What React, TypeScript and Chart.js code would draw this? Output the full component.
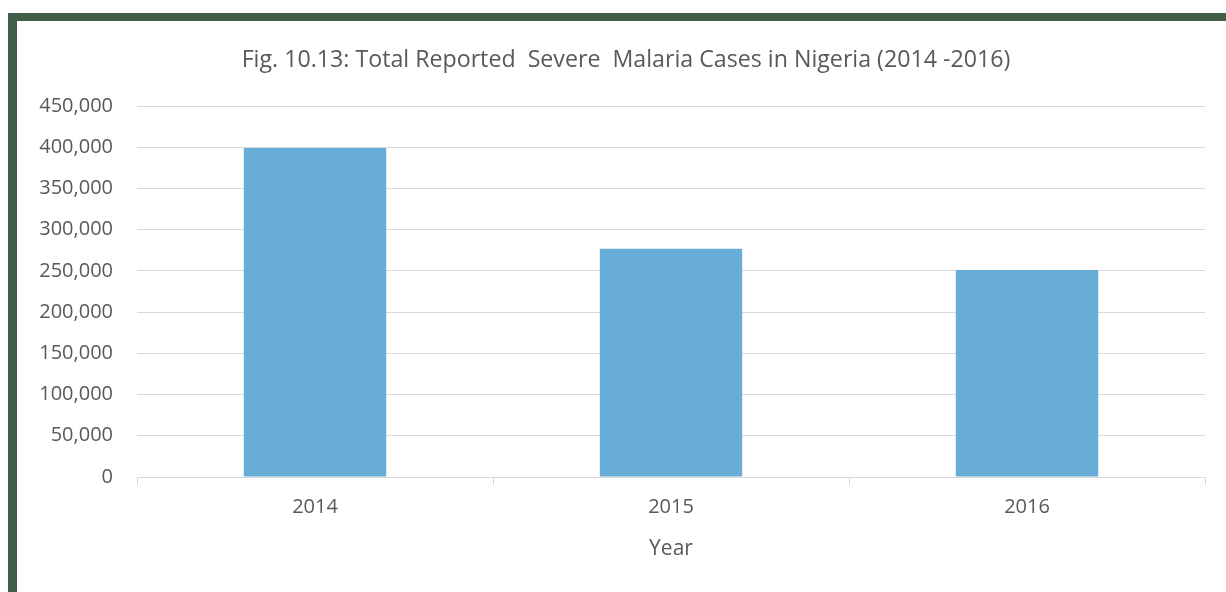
import React, { useEffect, useRef } from "react";
import { Chart, registerables } from "chart.js";

Chart.register(...registerables);

const categories = ["2014", "2015", "2016"];
const severeCases = [399000, 277000, 251000];
const yTicks = [0, 50000, 100000, 150000, 200000, 250000, 300000, 350000, 400000, 450000];
const titleText = "Fig. 10.13: Total Reported  Severe  Malaria Cases in Nigeria (2014 -2016)";
const xAxisTitle = "Year";

const FONT = "'Open Sans', Lato, sans-serif";
const GREY = "#595959";
const GRID = "#d9d9d9";

const titleShift = {
  id: "titleShift",
  afterLayout(chart: any) {
    const t = chart.titleBlock;
    if (t) {
      t.left += 30;
    }
  },
};

export default function App() {
  const ref = useRef<HTMLCanvasElement>(null);
  useEffect(() => {
    document.body.style.margin = "0";
    const ctx = ref.current!;
    const chart = new Chart(ctx, {
      type: "bar",
      data: {
        labels: categories,
        datasets: [
          {
            label: "Severe malaria cases",
            data: severeCases,
            backgroundColor: "#68acd8",
            borderWidth: 0,
            categoryPercentage: 1,
            barPercentage: 0.4,
          },
        ],
      },
      plugins: [titleShift],
      options: {
        animation: false,
        responsive: false,
        maintainAspectRatio: false,
        layout: { padding: { left: 0, right: 21, top: 0, bottom: 0 } },
        plugins: {
          legend: { display: false },
          tooltip: { enabled: false },
          title: {
            display: true,
            text: titleText,
            color: GREY,
            font: { family: FONT, size: 23.2, weight: "normal" },
            padding: { top: 25.5, bottom: 31.7 },
          },
        },
        scales: {
          x: {
            grid: {
              display: true,
              offset: true,
              drawOnChartArea: false,
              drawTicks: true,
              tickLength: 8,
              color: GRID,
            },
            border: { display: true, color: GRID },
            ticks: {
              color: GREY,
              font: { family: FONT, size: 20 },
              padding: 10,
              maxRotation: 0,
            },
            title: {
              display: true,
              text: xAxisTitle,
              color: GREY,
              font: { family: FONT, size: 21 },
              padding: { top: 0, bottom: 30 },
            },
            afterFit: (scale: any) => {
              scale.height = 115;
            },
          },
          y: {
            min: 0,
            max: 450000,
            grid: { color: GRID, drawTicks: false },
            border: { display: false },
            afterBuildTicks: (scale: any) => {
              scale.ticks = yTicks.map((v) => ({ value: v }));
            },
            ticks: {
              color: GREY,
              font: { family: FONT, size: 20 },
              padding: 24,
              callback: (v: any) => Number(v).toLocaleString("en-US"),
            },
            afterFit: (scale: any) => {
              scale.width = 120;
            },
          },
        },
      },
    });
    return () => chart.destroy();
  }, []);

  return (
    <div style={{ position: "fixed", left: 0, top: 0, width: 1226, height: 592, background: "#fff", overflow: "hidden" }}>
      <div style={{ position: "absolute", left: 8, top: 13, width: 1218, height: 8, background: "#3f5d47" }} />
      <div style={{ position: "absolute", left: 8, top: 13, width: 9, height: 579, background: "#3f5d47" }} />
      <canvas
        ref={ref}
        width={1209}
        height={571}
        style={{ position: "absolute", left: 17, top: 21, width: 1209, height: 571 }}
      />
    </div>
  );
}
